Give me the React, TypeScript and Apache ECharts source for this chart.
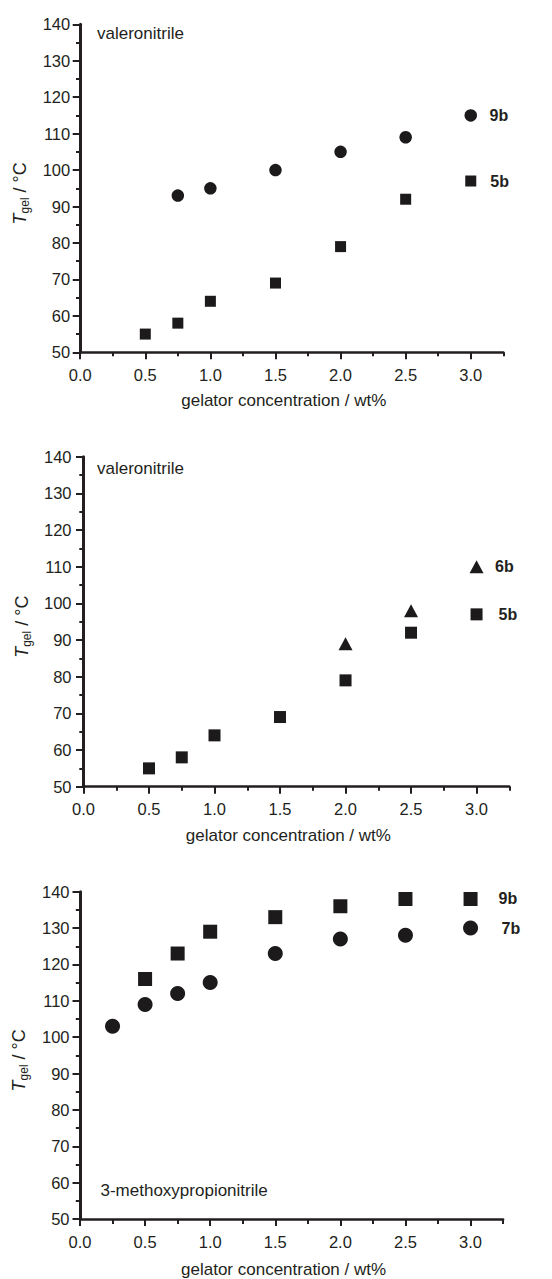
import React, { useEffect, useRef } from "react";
import * as echarts from "echarts";

// ---- data ----
const xTickValues = [0, 0.5, 1.0, 1.5, 2.0, 2.5, 3.0];
const yTickMin = 50;
const yTickMax = 140;

// panel 1 : valeronitrile
const p1_9b_x = [0.75, 1.0, 1.5, 2.0, 2.5, 3.0];
const p1_9b_y = [93, 95, 100, 105, 109, 115];
const p1_5b_x = [0.5, 0.75, 1.0, 1.5, 2.0, 2.5, 3.0];
const p1_5b_y = [55, 58, 64, 69, 79, 92, 97];

// panel 2 : valeronitrile
const p2_6b_x = [2.0, 2.5, 3.0];
const p2_6b_y = [89, 98, 110];
const p2_5b_x = [0.5, 0.75, 1.0, 1.5, 2.0, 2.5, 3.0];
const p2_5b_y = [55, 58, 64, 69, 79, 92, 97];

// panel 3 : 3-methoxypropionitrile
const p3_9b_x = [0.5, 0.75, 1.0, 1.5, 2.0, 2.5, 3.0];
const p3_9b_y = [116, 123, 129, 133, 136, 138, 138];
const p3_7b_x = [0.25, 0.5, 0.75, 1.0, 1.5, 2.0, 2.5, 3.0];
const p3_7b_y = [103, 109, 112, 115, 123, 127, 128, 130];

const solvent1 = "valeronitrile";
const solvent2 = "valeronitrile";
const solvent3 = "3-methoxypropionitrile";
const xTitle = "gelator concentration / wt%";

const FONT = "'Liberation Sans', Arial, Helvetica, sans-serif";
const INK = "#231f20";
const MARK = "#1c1a1b";

type S = { name: string; xs: number[]; ys: number[]; symbol: string; size: any; gap: number };
type Panel = {
  left: number; top: number; width: number; height: number;
  note: string; noteLeft: number; noteTop: number;
  yNameGap: number; xNameGap: number; yLabelMargin: number;
  series: S[];
};

const panels: Panel[] = [
  {
    left: 80.2, top: 24.3, width: 423.1, height: 328,
    note: solvent1, noteLeft: 97, noteTop: 24.5,
    yNameGap: 49, xNameGap: 40, yLabelMargin: 10,
    series: [
      { name: "9b", xs: p1_9b_x, ys: p1_9b_y, symbol: "circle", size: 12.5, gap: 12.5 },
      { name: "5b", xs: p1_5b_x, ys: p1_5b_y, symbol: "rect", size: 11, gap: 14 },
    ],
  },
  {
    left: 83.5, top: 456.7, width: 425.8, height: 330,
    note: solvent2, noteLeft: 97, noteTop: 459.5,
    yNameGap: 47, xNameGap: 40, yLabelMargin: 12,
    series: [
      { name: "6b", xs: p2_6b_x, ys: p2_6b_y, symbol: "triangle", size: [14, 13], gap: 11.5 },
      { name: "5b", xs: p2_5b_x, ys: p2_5b_y, symbol: "rect", size: 12, gap: 16 },
    ],
  },
  {
    left: 80, top: 891.7, width: 423.1, height: 328.3,
    note: solvent3, noteLeft: 100.5, noteTop: 1182,
    yNameGap: 50, xNameGap: 42, yLabelMargin: 10.5,
    series: [
      { name: "9b", xs: p3_9b_x, ys: p3_9b_y, symbol: "rect", size: 14, gap: 21 },
      { name: "7b", xs: p3_7b_x, ys: p3_7b_y, symbol: "circle", size: 15, gap: 23.5 },
    ],
  },
];

function buildOption() {
  const grid: any[] = [];
  const xAxis: any[] = [];
  const yAxis: any[] = [];
  const series: any[] = [];
  const title: any[] = [];

  panels.forEach((p, i) => {
    const main = 2 * i;
    const minor = 2 * i + 1;
    const g = { left: p.left, top: p.top, width: p.width, height: p.height, containLabel: false };
    grid.push({ ...g }, { ...g });

    xAxis.push({
      gridIndex: main,
      type: "value",
      min: 0,
      max: 3.25,
      interval: 0.5,
      name: xTitle,
      nameLocation: "middle",
      nameGap: p.xNameGap,
      nameTextStyle: { fontFamily: FONT, fontSize: 17, color: INK, padding: [0, 16, 0, 0] },
      axisLine: { show: true, onZero: false, lineStyle: { color: INK, width: 2.5 } },
      axisTick: { show: true, inside: false, length: 7, customValues: xTickValues, lineStyle: { color: INK, width: 2 } },
      axisLabel: {
        customValues: xTickValues,
        margin: 14,
        fontFamily: FONT,
        fontSize: 16.5,
        color: INK,
        formatter: (v: number) => (v > 3.01 ? "" : v.toFixed(1)),
      },
      splitLine: { show: false },
    });
    xAxis.push({
      gridIndex: minor,
      type: "value",
      min: 0,
      max: 3.25,
      interval: 0.25,
      axisLine: { show: false, onZero: false },
      axisTick: { show: true, inside: false, length: 4, lineStyle: { color: INK, width: 2 } },
      axisLabel: { show: false },
      splitLine: { show: false },
    });

    yAxis.push({
      gridIndex: main,
      type: "value",
      min: yTickMin,
      max: yTickMax,
      interval: 10,
      name: "{t|T}{s|gel}{r| / °C}",
      nameLocation: "middle",
      nameRotate: 90,
      nameGap: p.yNameGap,
      nameTextStyle: {
        color: INK,
        fontFamily: FONT,
        padding: [0, 10, 0, 0],
        rich: {
          t: { fontFamily: FONT, fontSize: 18, fontStyle: "italic", color: INK, lineHeight: 22 },
          s: { fontFamily: FONT, fontSize: 12, color: INK, lineHeight: 12, verticalAlign: "bottom" },
          r: { fontFamily: FONT, fontSize: 18, color: INK, lineHeight: 22 },
        },
      },
      axisLine: { show: true, onZero: false, lineStyle: { color: INK, width: 3 } },
      axisTick: { show: true, inside: false, length: 7.5, lineStyle: { color: INK, width: 2 } },
      minorTick: { show: true, splitNumber: 2, length: 4.2, lineStyle: { color: INK, width: 2 } },
      axisLabel: { margin: p.yLabelMargin, fontFamily: FONT, fontSize: 16.5, color: INK },
      splitLine: { show: false },
      minorSplitLine: { show: false },
    });
    yAxis.push({ gridIndex: minor, type: "value", min: yTickMin, max: yTickMax, show: false });

    p.series.forEach((s) => {
      series.push({
        type: "scatter",
        name: s.name,
        xAxisIndex: main,
        yAxisIndex: main,
        symbol: s.symbol,
        symbolSize: s.size,
        itemStyle: { color: MARK, opacity: 1 },
        emphasis: { disabled: true },
        label: {
          position: "right",
          distance: s.gap,
          formatter: () => s.name,
          fontFamily: FONT,
          fontSize: 16,
          fontWeight: "bold",
          color: INK,
        },
        data: s.xs.map((x, k) => ({
          value: [x, s.ys[k]],
          label: { show: k === s.xs.length - 1 },
        })),
      });
    });

    title.push({
      text: p.note,
      left: p.noteLeft,
      top: p.noteTop,
      padding: 0,
      textStyle: { fontFamily: FONT, fontSize: 17, fontWeight: "normal", color: INK },
    });
  });

  return {
    animation: false,
    backgroundColor: "#ffffff",
    title,
    grid,
    xAxis,
    yAxis,
    series,
  };
}

export default function App() {
  const ref = useRef<HTMLDivElement>(null);
  useEffect(() => {
    if (!ref.current) return;
    const chart = echarts.init(ref.current, undefined, { renderer: "svg" });
    chart.setOption(buildOption() as any);
    return () => chart.dispose();
  }, []);
  return (
    <div
      ref={ref}
      style={{ position: "absolute", left: 0, top: 0, width: 552, height: 1279, background: "#fff" }}
    />
  );
}
